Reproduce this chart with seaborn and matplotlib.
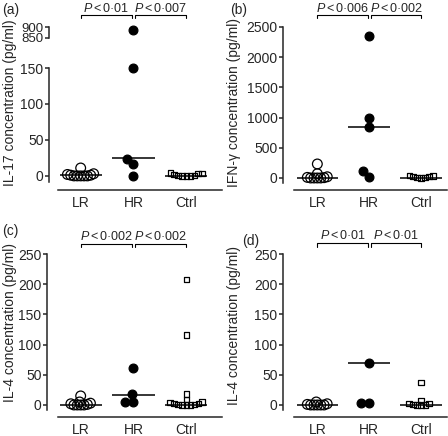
import numpy as np
import pandas as pd
import matplotlib
matplotlib.use("Agg")
import matplotlib.pyplot as plt
import matplotlib.transforms as mtransforms
import seaborn as sns

groups = ["LR", "HR", "Ctrl"]

# (a) IL-17
il17_lr = [11, 3, 2, 1, 1, 0, 0, 0, 0, 0]
il17_hr = [886, 150, 24, 16, 0]
il17_ctrl = [4, 3, 3, 2, 1, 1, 0, 0, 0]
il17_med = [1, 25, 0]

# (b) IFN-gamma
ifng_lr = [232, 70, 20, 10, 5, 0, 0, 0, 0]
ifng_hr = [2352, 998, 850, 116, 20]
ifng_ctrl = [40, 35, 30, 20, 10, 5, 0]
ifng_med = [0, 845, 0]

# (c) IL-4
il4c_lr = [15, 5, 3, 2, 1, 0, 0, 0, 0]
il4c_hr = [61, 18, 5, 5]
il4c_ctrl = [208, 116, 18, 9, 5, 4, 3, 2, 1, 1, 0, 0, 0]
il4c_med = [0, 17, 0]

# (d) IL-4
il4d_lr = [5, 2, 1, 0, 0, 0, 0, 0]
il4d_hr = [70, 3, 3]
il4d_ctrl = [37, 8, 3, 2, 1, 0, 0, 0]
il4d_med = [0, 70, 0]

sns.set_style("ticks")
plt.rcParams["font.family"] = ["Liberation Sans", "DejaVu Sans"]
plt.rcParams["mathtext.fontset"] = "custom"
plt.rcParams["mathtext.it"] = "Liberation Sans:italic"
plt.rcParams["mathtext.rm"] = "Liberation Sans"
FS = 10

W, H = 448, 436
fig = plt.figure(figsize=(W / 100, H / 100), dpi=100)

# marker look per group: (marker, swarm size, final size, filled)
STYLE = {
    "LR": ("o", 2.3, 7.0, False),
    "HR": ("o", 5.8, 6.3, True),
    "Ctrl": ("s", 2.8, 3.8, False),
}
swarm_colls = []


def px_axes(x0, y0, x1, y1):
    return fig.add_axes([x0 / W, 1 - y1 / H, (x1 - x0) / W, (y1 - y0) / H])


def swarm(ax, lr, hr, ctrl, med, pad=0.08):
    df = pd.DataFrame({
        "group": ["LR"] * len(lr) + ["HR"] * len(hr) + ["Ctrl"] * len(ctrl),
        "value": lr + hr + ctrl,
    })
    ax.hlines(med, np.arange(3) - 0.4, np.arange(3) + 0.4, color="black", lw=1.1, zorder=1)
    # clip a bit outside the axes so points at the top tick are not cut in half
    box = mtransforms.TransformedBbox(
        mtransforms.Bbox([[-0.1, -pad], [1.1, 1 + pad]]), ax.transAxes)
    for g in groups:
        marker, s, final, filled = STYLE[g]
        n0 = len(ax.collections)
        sns.swarmplot(data=df[df.group == g], x="group", y="value", order=groups,
                      ax=ax, size=s, marker=marker, color="black", zorder=3)
        for coll in ax.collections[n0:]:
            coll.set_clip_path(None)
            coll.set_clip_box(box)
            swarm_colls.append((coll, final, filled))
    ax.set_xlabel("")
    ax.set_ylabel("")


def style_axis(ax, xlim, ylim, yticks, spine_low, offset_px):
    ax.set_xlim(*xlim)
    ax.set_ylim(*ylim)
    ax.set_yticks(yticks)
    ax.spines["top"].set_visible(False)
    ax.spines["right"].set_visible(False)
    ax.spines["left"].set_position(("outward", offset_px * 0.72))
    ax.spines["left"].set_bounds(spine_low, yticks[-1])
    for sp in ["left", "bottom"]:
        ax.spines[sp].set_linewidth(1.1)
    ax.tick_params(axis="y", length=3, width=1.1, pad=1, labelsize=FS)
    ax.tick_params(axis="x", length=0, pad=4, labelsize=FS)


def bracket(ax, x0, x1, y_px, text, base_px):
    trans = mtransforms.blended_transform_factory(ax.transData, fig.transFigure)
    y = 1 - y_px / H
    yl = 1 - (y_px + 3.5) / H
    ax.plot([x0, x0, x1, x1], [yl, y, y, yl], transform=trans,
            color="black", lw=0.8, clip_on=False)
    ax.text((x0 + x1) / 2, 1 - base_px / H, text, transform=trans,
            ha="center", va="baseline", fontsize=9)


def ptext(p):
    return "$P\\,$<$\\,$" + p


def ylabel(x_px, y_px, text):
    fig.text(x_px / W, 1 - y_px / H, text, rotation=90, ha="center", va="center", fontsize=FS)


XL = (-0.43, 2.68)
XR = (-0.45, 2.5)

# ---- (a) broken axis ----
ax_a = px_axes(58, 68, 222, 190)
swarm(ax_a, il17_lr, il17_hr, il17_ctrl, il17_med)
style_axis(ax_a, XL, (-19.6, 150), [0, 50, 100, 150], -8.4, 9)

# upper piece: 850-900 over 11 px, a little headroom so the point is not cut
ax_a2 = px_axes(58, 20, 222, 45)
swarm(ax_a2, il17_lr, il17_hr, il17_ctrl, il17_med, pad=0)
style_axis(ax_a2, XL, (818, 932), [850, 900], 850, 9)
ax_a2.spines["bottom"].set_visible(False)
ax_a2.set_xticks([])
ax_a2.patch.set_visible(False)
ax_a2.tick_params(axis="y", labelsize=9.5)

bracket(ax_a, 0, 0.97, 15, ptext("0·01"), 11.5)
bracket(ax_a, 1.03, 2, 15, ptext("0·007"), 11.5)
ylabel(10, 103, "IL-17 concentration (pg/ml)")

# ---- (b) ----
ax_b = px_axes(294, 27, 447, 190)
swarm(ax_b, ifng_lr, ifng_hr, ifng_ctrl, ifng_med)
style_axis(ax_b, XR, (-199, 2500), [0, 500, 1000, 1500, 2000, 2500], -83, 11)
bracket(ax_b, 0, 0.97, 15, ptext("0·006"), 11.5)
bracket(ax_b, 1.03, 2, 15, ptext("0·002"), 11.5)
ylabel(234, 102, "IFN-\u03b3 concentration (pg/ml)")

# ---- (c) ----
ax_c = px_axes(58, 254, 222, 417)
swarm(ax_c, il4c_lr, il4c_hr, il4c_ctrl, il4c_med)
style_axis(ax_c, XL, (-19.9, 250), [0, 50, 100, 150, 200, 250], -8, 11)
bracket(ax_c, 0, 0.97, 244, ptext("0·002"), 240)
bracket(ax_c, 1.03, 2, 244, ptext("0·002"), 240)
ylabel(10, 322, "IL-4 concentration (pg/ml)")

# ---- (d) ----
ax_d = px_axes(294, 254, 447, 417)
swarm(ax_d, il4d_lr, il4d_hr, il4d_ctrl, il4d_med)
style_axis(ax_d, XR, (-19.9, 250), [0, 50, 100, 150, 200, 250], -8, 11)
bracket(ax_d, 0, 0.97, 243, ptext("0·01"), 239)
bracket(ax_d, 1.03, 2, 243, ptext("0·01"), 239)
ylabel(234, 325, "IL-4 concentration (pg/ml)")

# panel letters
for x_px, y_px, lab in [(2, 10, "(a)"), (230, 10, "(b)"), (2, 231, "(c)"), (242, 241, "(d)")]:
    fig.text(x_px / W, 1 - y_px / H, lab, ha="left", va="center", fontsize=FS)

# lay out the swarms with small markers, then freeze them and enlarge the markers
# so points overlap like in the original column scatter
fig.canvas.draw()
for coll, final, filled in swarm_colls:
    if "draw" in vars(coll):
        del coll.draw
    coll.set_sizes([final ** 2])
    coll.set_edgecolor("black")
    coll.set_facecolor("black" if filled else "none")
    coll.set_linewidth(0.9)

fig.savefig("out.png", dpi=100)
